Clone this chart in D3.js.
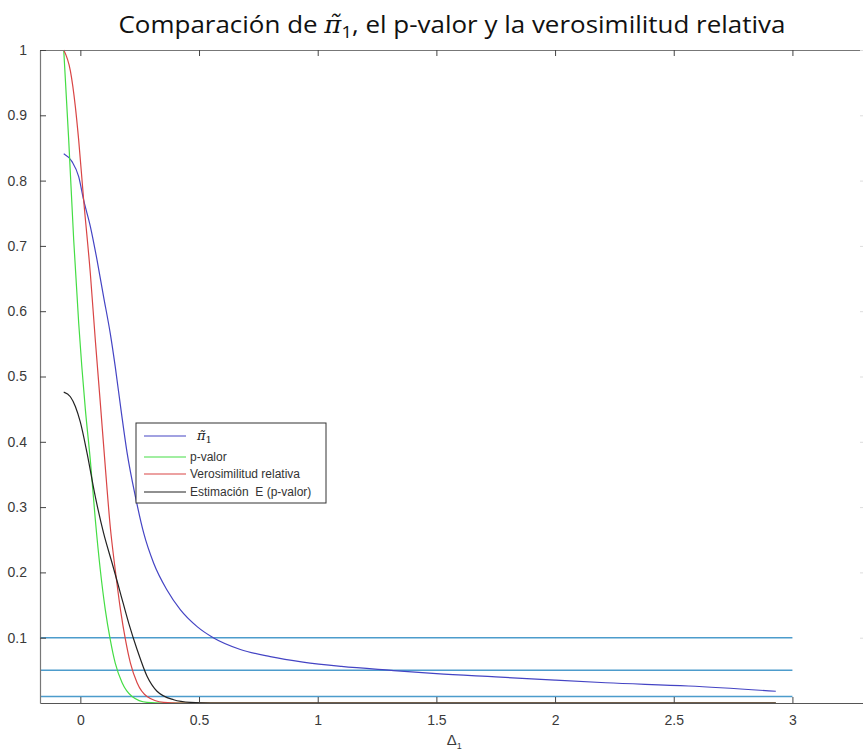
<!DOCTYPE html>
<html>
<head>
<meta charset="utf-8">
<script src="https://cdn.jsdelivr.net/npm/d3@7"></script>
<style>
  html, body { margin: 0; padding: 0; background: #fff; }
  svg { display: block; }
  text { white-space: pre; }
</style>
</head>
<body>
<svg id="chart" width="863" height="752"></svg>
<script>
// ---- data ----
const xTicks = [0, 0.5, 1, 1.5, 2, 2.5, 3];
const xTickLabels = ["0", "0.5", "1", "1.5", "2", "2.5", "3"];
const yTicks = [0.1, 0.2, 0.3, 0.4, 0.5, 0.6, 0.7, 0.8, 0.9, 1];
const yTickLabels = ["0.1", "0.2", "0.3", "0.4", "0.5", "0.6", "0.7", "0.8", "0.9", "1"];

const piX = [-0.07, -0.035, -0.007, 0.014, 0.042, 0.070, 0.098, 0.126, 0.147, 0.172, 0.197, 0.232, 0.267, 0.309, 0.365, 0.421, 0.492, 0.56, 0.674, 0.8, 0.938, 1.1, 1.31, 1.5, 1.75, 2.0, 2.214, 2.562, 2.93];
const piY = [0.841, 0.829, 0.806, 0.770, 0.730, 0.679, 0.622, 0.566, 0.515, 0.447, 0.383, 0.316, 0.260, 0.214, 0.173, 0.143, 0.117, 0.100, 0.082, 0.071, 0.0626, 0.056, 0.050, 0.045, 0.040, 0.035, 0.031, 0.026, 0.018];

const pvX = [-0.07, -0.049, -0.028, -0.007, 0.021, 0.042, 0.063, 0.084, 0.105, 0.126, 0.147, 0.176, 0.218, 0.281, 0.35, 0.5, 1, 2, 2.93];
const pvY = [1.0, 0.862, 0.709, 0.582, 0.450, 0.372, 0.281, 0.204, 0.143, 0.097, 0.061, 0.031, 0.010, 0.001, 0, 0, 0, 0, 0];

const vrX = [-0.07, -0.042, -0.021, -0.007, 0.014, 0.042, 0.063, 0.084, 0.105, 0.126, 0.147, 0.169, 0.190, 0.211, 0.239, 0.281, 0.351, 0.42, 0.6, 1, 2, 2.93];
const vrY = [1.0, 0.968, 0.913, 0.862, 0.770, 0.658, 0.556, 0.460, 0.362, 0.270, 0.204, 0.143, 0.097, 0.061, 0.031, 0.010, 0.001, 0, 0, 0, 0, 0];

const esX = [-0.07, -0.042, -0.021, 0, 0.028, 0.063, 0.098, 0.134, 0.169, 0.204, 0.239, 0.281, 0.323, 0.393, 0.464, 0.55, 0.7, 1, 2, 2.93];
const esY = [0.476, 0.469, 0.454, 0.430, 0.383, 0.316, 0.260, 0.214, 0.168, 0.122, 0.082, 0.041, 0.018, 0.005, 0.001, 0, 0, 0, 0, 0];

const refLevels = [0.1, 0.05, 0.01];
const refXStart = -0.17, refXEnd = 3;

const seriesNames = ["π̃", "p-valor", "Verosimilitud relativa", "Estimación  E (p-valor)"];
const seriesColors = ["#4444c4", "#44dd44", "#d94545", "#222222"];
const refColor = "#4d9ccc";

// ---- layout ----
const svg = d3.select("#chart");
const mLeft = 40, mRight = 866, mTop = 50, mBottom = 703;
const x = d3.scaleLinear().domain([-0.17, 3.31]).range([mLeft, mRight]);
const y = d3.scaleLinear().domain([0, 1]).range([mBottom, mTop]);

// reference horizontal lines
svg.append("g").selectAll("line").data(refLevels).join("line")
  .attr("x1", x(refXStart)).attr("x2", x(refXEnd))
  .attr("y1", d => y(d)).attr("y2", d => y(d))
  .attr("stroke", refColor).attr("stroke-width", 1.5);

// curves
const series = [
  { xs: piX, ys: piY, c: seriesColors[0] },
  { xs: pvX, ys: pvY, c: seriesColors[1] },
  { xs: vrX, ys: vrY, c: seriesColors[2] },
  { xs: esX, ys: esY, c: seriesColors[3] }
];
const line = d3.line().x(d => x(d[0])).y(d => y(d[1])).curve(d3.curveMonotoneX);
series.forEach(s => {
  svg.append("path")
    .datum(s.xs.map((v, i) => [v, s.ys[i]]))
    .attr("d", line)
    .attr("fill", "none")
    .attr("stroke", s.c)
    .attr("stroke-width", 1.2);
});

// axes
const axisColor = "#777";
const tickColor = "#444";
const fontTick = "'Liberation Sans', Arial, sans-serif";

const gx = svg.append("g").attr("transform", `translate(0,${mBottom})`)
  .call(d3.axisBottom(x).tickValues(xTicks).tickFormat((d, i) => xTickLabels[i]).tickSizeInner(-6).tickSizeOuter(0).tickPadding(12));
const gxTop = svg.append("g").attr("transform", `translate(0,${mTop})`)
  .call(d3.axisTop(x).tickValues(xTicks).tickFormat("").tickSizeInner(-6).tickSizeOuter(0));
const gy = svg.append("g").attr("transform", `translate(${mLeft},0)`)
  .call(d3.axisLeft(y).tickValues(yTicks).tickFormat((d, i) => yTickLabels[i]).tickSizeInner(-6).tickSizeOuter(0).tickPadding(13));
const gyR = svg.append("g").attr("transform", `translate(${mRight},0)`)
  .call(d3.axisRight(y).tickValues(yTicks).tickFormat("").tickSizeInner(-6).tickSizeOuter(0));

[gx, gxTop, gy, gyR].forEach(g => {
  g.select(".domain").attr("stroke", axisColor).attr("stroke-width", 1.2);
  g.selectAll(".tick line").attr("stroke", tickColor);
  g.selectAll("text").attr("font-family", fontTick).attr("font-size", 14).attr("fill", "#3a3a3a");
});
gx.select(".domain").attr("stroke", "#555");
gyR.selectAll(".tick line").attr("stroke", "#ddd");
gyR.select(".domain").attr("stroke", "#ddd");

// x label Δ1
const xl = svg.append("text").attr("x", x(1.575)).attr("y", 745)
  .attr("font-family", fontTick).attr("font-size", 15).attr("fill", "#3a3a3a")
  .attr("text-anchor", "middle");
xl.append("tspan").text("Δ");
xl.append("tspan").attr("font-size", 9).attr("dy", 4).text("1");

// legend
const lg = svg.append("g");
lg.append("rect").attr("x", 136).attr("y", 423).attr("width", 190).attr("height", 80)
  .attr("fill", "#fff").attr("stroke", "#333").attr("stroke-width", 1);
const rowY = [436, 457, 474, 492];
seriesNames.forEach((n, i) => {
  lg.append("line").attr("x1", 144).attr("x2", 186).attr("y1", rowY[i]).attr("y2", rowY[i])
    .attr("stroke", seriesColors[i]).attr("stroke-width", 1.2);
  if (i === 0) {
    const t = lg.append("text").attr("x", 197).attr("y", rowY[i] + 4)
      .attr("font-family", "'DejaVu Serif', serif").attr("font-style", "italic")
      .attr("font-size", 13).attr("fill", "#222");
    t.append("tspan").text(n);
    t.append("tspan").attr("font-style", "normal").attr("font-size", 10).attr("dy", 3).text("1");
  } else {
    lg.append("text").attr("x", 190).attr("y", rowY[i] + 4)
      .attr("font-family", fontTick).attr("font-size", 12).attr("fill", "#333").text(n);
  }
});

// title
const title = svg.append("text").attr("x", 452).attr("y", 33)
  .attr("text-anchor", "middle")
  .attr("font-family", "'Open Sans', 'Noto Sans', sans-serif").attr("font-size", 24).attr("fill", "#111");
title.append("tspan").text("Comparación de ");
title.append("tspan").attr("font-family", "'DejaVu Serif', serif").attr("font-style", "italic").text("π̃");
title.append("tspan").attr("font-size", 17).attr("dy", 5).text("1");
title.append("tspan").attr("dy", -5).text(", el p-valor y la verosimilitud relativa");
// fit title width to reference (≈667px)
const w = title.node().getComputedTextLength();
const targetW = 667;
title.attr("transform", `translate(452,0) scale(${targetW / w},1) translate(-452,0)`);
</script>
</body>
</html>
